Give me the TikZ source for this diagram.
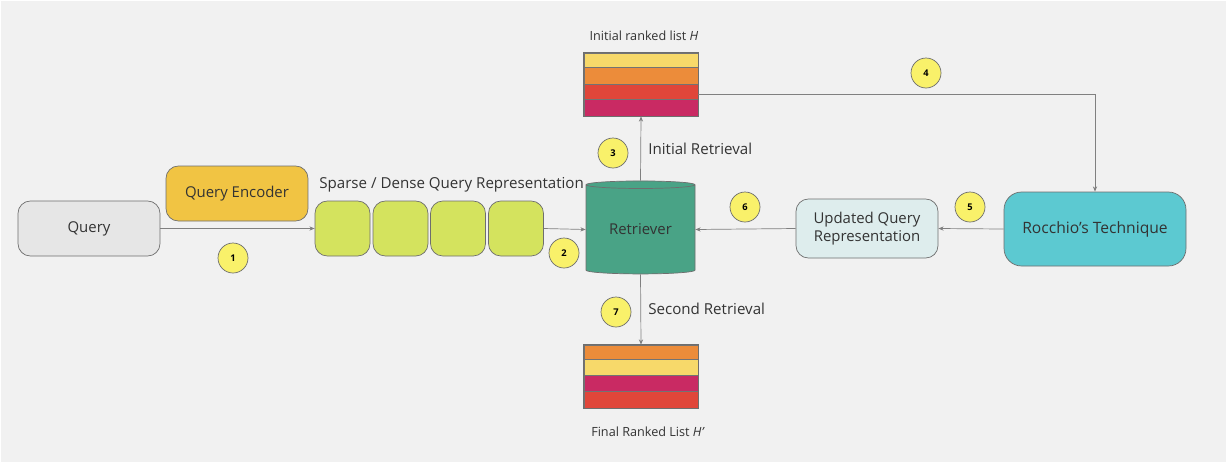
\documentclass[tikz,border=0pt]{standalone}
\usepackage{fontspec}
\setmainfont{Open Sans}
\usetikzlibrary{shapes.geometric,arrows.meta}

\definecolor{bggray}{HTML}{F1F1F1}
\definecolor{querygray}{HTML}{E6E6E6}
\definecolor{encgold}{HTML}{F1C443}
\definecolor{reprgreen}{HTML}{D4E35E}
\definecolor{retrgreen}{HTML}{49A386}
\definecolor{rocchiocyan}{HTML}{5CC9D1}
\definecolor{updpale}{HTML}{DEEDED}
\definecolor{badgeyellow}{HTML}{F9F16A}
\definecolor{rankyellow}{HTML}{F7D96A}
\definecolor{rankorange}{HTML}{EC8C3A}
\definecolor{rankred}{HTML}{E0463A}
\definecolor{rankmagenta}{HTML}{C92A63}
\definecolor{inkgray}{HTML}{333333}
\definecolor{edgegray}{HTML}{6E6E6E}

\tikzset{
  boxnode/.style={draw=edgegray, rounded corners=7pt, inner sep=0pt, text=inkgray,
    font=\fontsize{8.5}{10}\selectfont, align=center},
  badge/.style={circle, draw=edgegray, fill=badgeyellow, inner sep=0pt, minimum size=0.6cm,
    font=\bfseries\fontsize{5.3}{6}\selectfont},
  flow/.style={draw=gray, line width=0.4pt, -{Stealth[length=3pt,width=2.4pt]}},
  stripe/.style={draw=black!55, line width=0.5pt},
  caption/.style={text=inkgray, inner sep=0pt}
}

\begin{document}
\begin{tikzpicture}[x=0.02cm, y=-0.02cm]
  \useasboundingbox (0,0) rectangle (1226,464);
  \fill[bggray] (1,1) rectangle (1226,462);

  % input side
  \node[boxnode, fill=querygray, minimum width=2.84cm, minimum height=1.10cm] (query) at (89,228.5) {Query};
  \node[boxnode, fill=encgold, minimum width=2.84cm, minimum height=1.10cm] (encoder) at (237,193.5) {Query Encoder};
  \node[boxnode, fill=reprgreen, minimum size=1.10cm] (g1) at (342.5,228.5) {};
  \node[boxnode, fill=reprgreen, minimum size=1.10cm] (g2) at (400.5,228.5) {};
  \node[boxnode, fill=reprgreen, minimum size=1.10cm] (g3) at (458,228.5) {};
  \node[boxnode, fill=reprgreen, minimum size=1.10cm] (g4) at (516,228.5) {};
  \node[caption, anchor=west, font=\fontsize{8.6}{10}\selectfont] (reprlabel) at (319,185) {Sparse / Dense Query Representation};

  % retriever
  \node[cylinder, shape border rotate=90, aspect=0.12, draw=edgegray, fill=retrgreen,
    minimum width=2.18cm, minimum height=1.86cm, inner sep=0pt, text=inkgray,
    font=\fontsize{8.5}{10}\selectfont] (retriever) at (640.5,229.5) {Retriever};

  % initial ranked list
  \node[draw=edgegray, minimum width=2.28cm, minimum height=1.26cm, inner sep=0pt] (Hinit) at (641,84.5) {};
  \filldraw[stripe, fill=rankyellow] (584,53) rectangle (698,67);
  \filldraw[stripe, fill=rankorange] (584,67) rectangle (698,84);
  \filldraw[stripe, fill=rankred] (584,84) rectangle (698,99);
  \filldraw[stripe, fill=rankmagenta] (584,99) rectangle (698,116);
  \draw[edgegray] (Hinit.south west) rectangle (Hinit.north east);
  \node[caption, font=\fontsize{7.2}{8}\selectfont] (Hinitlabel) at (644,36) {Initial ranked list \textit{H}};

  % final ranked list
  \node[draw=edgegray, minimum width=2.28cm, minimum height=1.26cm, inner sep=0pt] (Hfinal) at (641,376.5) {};
  \filldraw[stripe, fill=rankorange] (584,345) rectangle (698,359);
  \filldraw[stripe, fill=rankyellow] (584,359) rectangle (698,375);
  \filldraw[stripe, fill=rankmagenta] (584,375) rectangle (698,391);
  \filldraw[stripe, fill=rankred] (584,391) rectangle (698,408);
  \draw[edgegray] (Hfinal.south west) rectangle (Hfinal.north east);
  \node[caption, font=\fontsize{7.2}{8}\selectfont] (Hfinallabel) at (648,432) {Final Ranked List \textit{H’}};

  % feedback side
  \node[boxnode, fill=rocchiocyan, minimum width=3.64cm, minimum height=1.48cm, rounded corners=10pt,
    font=\fontsize{8.9}{10}\selectfont] (rocchio) at (1095,229) {Rocchio{\char"27}s Technique};
  \node[boxnode, fill=updpale, minimum width=2.84cm, minimum height=1.18cm] (updated) at (867,228.5) {Updated Query\\Representation};

  \node[caption, anchor=west, font=\fontsize{8.6}{10}\selectfont] (initret) at (648,149) {Initial Retrieval};
  \node[caption, anchor=west, font=\fontsize{8.6}{10}\selectfont] (secret) at (648,309) {Second Retrieval};

  % connectors
  \draw[flow] (query.east) -- (g1.west);
  \draw[flow] (g4.east) -- (retriever.west);
  \draw[flow] (retriever.north) -- (Hinit.south);
  \draw[flow] ([yshift=-0.19cm]Hinit.east) -| (rocchio.north);
  \draw[flow] (rocchio.west) -- (updated.east);
  \draw[flow] (updated.west) -- (retriever.east);
  \draw[flow] (retriever.south) -- (Hfinal.north);

  % step badges
  \node[badge] (s1) at (233,258) {1};
  \node[badge] (s2) at (564,253) {2};
  \node[badge] (s3) at (613,153) {3};
  \node[badge] (s4) at (926,73) {4};
  \node[badge] (s5) at (970,207) {5};
  \node[badge] (s6) at (745,207) {6};
  \node[badge] (s7) at (616,312) {7};
\end{tikzpicture}
\end{document}
